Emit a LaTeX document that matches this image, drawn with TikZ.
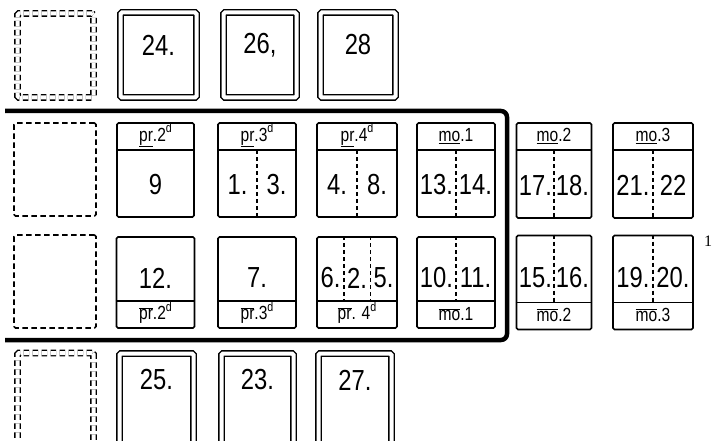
\documentclass[tikz,border=0pt]{standalone}
\usepackage{fontspec}
\setmainfont{Liberation Sans}
\newfontfamily\cardfont[FakeStretch=0.82]{Liberation Sans}
\newfontfamily\notefont{Liberation Serif}
\newcommand{\topbar}[1]{$\overline{\hbox{#1}}$}
\newcommand{\dsup}{\raisebox{0.45em}{\fontsize{13}{13}\selectfont d}}

\begin{document}
\begin{tikzpicture}[
    x=1pt, y=-1pt,
    every node/.style={
        inner sep=0pt,
        anchor=center
    },
    card/.style 2 args={draw, line width=1.6pt, rounded corners=1.5pt,
        minimum width=#1pt, minimum height=#2pt},
    framed/.style={double, double distance=4pt, line width=1.4pt},
    blank/.style={dash pattern=on 5.5pt off 3.5pt},
    rule/.style={line width=1.6pt},
    split/.style={line width=1.6pt, dash pattern=on 4pt off 3pt},
    frame/.style={line width=4.5pt, rounded corners=6pt},
    num/.style={font=\cardfont\fontsize{29}{29}\selectfont},
    tag/.style={anchor=base, font=\cardfont\fontsize{19}{19}\selectfont}
]
\clip (0,0) rectangle (713,441);

% Empty places, left column
\node[card={76}{84}, framed, blank] (e0) at (55.5,55.5) {};
\node[card={82}{93}, blank]         (e1) at (55,169.5) {};
\node[card={82}{93}, blank]         (e2) at (55,281.5) {};
\node[card={76}{100}, framed, blank] (e3) at (55.5,403) {};

% Top row
\node[card={76}{85}, framed] (t1) at (158.5,55) {};
\node[card={73}{85}, framed] (t2) at (260,55) {};
\node[card={75}{85}, framed] (t3) at (358,55) {};
\node[num] (n24) at ([yshift=10pt]t1.center) {24.};
\node[num] (n26) at ([yshift=10pt]t2.center) {26,};
\node[num] (n28) at ([yshift=10pt]t3.center) {28};

% Header row
\node[card={77}{94}] (h1) at (155.5,170) {};
\node[card={78}{94}] (h2) at (257,170) {};
\node[card={80}{94}] (h3) at (357,170) {};
\node[card={78}{94}] (h4) at (456,170) {};
\node[card={75}{95}] (h5) at (554,170.5) {};
\node[card={80}{95}] (h6) at (653,170.5) {};
\foreach \i in {1,...,6}
    \draw[rule] ([yshift=-28pt]h\i.north west) -- ([yshift=-28pt]h\i.north east);
\foreach \i in {2,...,6}
    \draw[split] ([yshift=-28pt]h\i.north) -- (h\i.south);

\node[tag] (hp2) at ([yshift=-19pt]h1.north) {\underline{pr}.2\dsup};
\node[tag] (hp3) at ([yshift=-19pt]h2.north) {\underline{pr}.3\dsup};
\node[tag] (hp4) at ([yshift=-19pt]h3.north) {\underline{pr}.4\dsup};
\node[tag] (hm1) at ([yshift=-19pt]h4.north) {\underline{mo}.1};
\node[tag] (hm2) at ([yshift=-19pt]h5.north) {\underline{mo}.2};
\node[tag] (hm3) at ([yshift=-19pt]h6.north) {\underline{mo}.3};

\node[num] (n9)  at ([yshift=-15pt]h1.center) {9};
\node[num] (n1)  at ([xshift=-19.5pt,yshift=-15pt]h2.center) {1.};
\node[num] (n3)  at ([xshift=19.5pt,yshift=-15pt]h2.center) {3.};
\node[num] (n4)  at ([xshift=-20pt,yshift=-15pt]h3.center) {4.};
\node[num] (n8)  at ([xshift=20pt,yshift=-15pt]h3.center) {8.};
\node[num] (n13) at ([xshift=-19.5pt,yshift=-15pt]h4.center) {13.};
\node[num] (n14) at ([xshift=19.5pt,yshift=-15pt]h4.center) {14.};
\node[num] (n17) at ([xshift=-18.5pt,yshift=-15pt]h5.center) {17.};
\node[num] (n18) at ([xshift=18.5pt,yshift=-15pt]h5.center) {18.};
\node[num] (n21) at ([xshift=-20pt,yshift=-15pt]h6.center) {21.};
\node[num] (n22) at ([xshift=20pt,yshift=-15pt]h6.center) {22};

% Footer row
\node[card={78}{91}] (f1) at (155.5,282.5) {};
\node[card={78}{91}] (f2) at (257,282.5) {};
\node[card={80}{91}] (f3) at (357,282.5) {};
\node[card={78}{91}] (f4) at (456,282.5) {};
\node[card={75}{94}] (f5) at (554,282.5) {};
\node[card={80}{94}] (f6) at (653,282.5) {};
\foreach \i in {1,...,6}
    \draw[rule] ([yshift=28pt]f\i.south west) -- ([yshift=28pt]f\i.south east);
\foreach \i in {4,...,6}
    \draw[split] (f\i.north) -- ([yshift=28pt]f\i.south);
\draw[split] ([xshift=-13.3pt]f3.north) -- ([xshift=-13.3pt,yshift=28pt]f3.south);
\draw[split] ([xshift=13.3pt]f3.north) -- ([xshift=13.3pt,yshift=28pt]f3.south);

\node[tag] (fp2) at ([yshift=9pt]f1.south) {\topbar{pr}.2\dsup};
\node[tag] (fp3) at ([yshift=9pt]f2.south) {\topbar{pr}.3\dsup};
\node[tag] (fp4) at ([yshift=9pt]f3.south) {\topbar{pr}. 4\dsup};
\node[tag] (fm1) at ([yshift=8pt]f4.south) {\topbar{mo}.1};
\node[tag] (fm2) at ([yshift=9pt]f5.south) {\topbar{mo}.2};
\node[tag] (fm3) at ([yshift=9pt]f6.south) {\topbar{mo}.3};

\node[num] (n12) at ([yshift=4.5pt]f1.center) {12.};
\node[num] (n7)  at ([yshift=4.5pt]f2.center) {7.};
\node[num] (n6)  at ([xshift=-26.5pt,yshift=4.5pt]f3.center) {6.};
\node[num] (n2)  at ([yshift=4.5pt]f3.center) {2.};
\node[num] (n5)  at ([xshift=26.5pt,yshift=4.5pt]f3.center) {5.};
\node[num] (n10) at ([xshift=-19.5pt,yshift=4.5pt]f4.center) {10.};
\node[num] (n11) at ([xshift=19.5pt,yshift=4.5pt]f4.center) {11.};
\node[num] (n15) at ([xshift=-18.5pt,yshift=4.5pt]f5.center) {15.};
\node[num] (n16) at ([xshift=18.5pt,yshift=4.5pt]f5.center) {16.};
\node[num] (n19) at ([xshift=-20pt,yshift=4.5pt]f6.center) {19.};
\node[num] (n20) at ([xshift=20pt,yshift=4.5pt]f6.center) {20.};

% Bottom row
\node[card={74}{100}, framed] (b1) at (156.5,403.5) {};
\node[card={72}{100}, framed] (b2) at (257.5,403.5) {};
\node[card={73}{100}, framed] (b3) at (355,403.5) {};
\node[num] (n25) at ([yshift=23.5pt]b1.center) {25.};
\node[num] (n23) at ([yshift=23.5pt]b2.center) {23.};
\node[num] (n27) at ([yshift=23.5pt]b3.center) {27.};

% Heavy frame round the middle block
\draw[frame] (5,111) -- (507,111) -- (507,340) -- (5,340);

% Note mark
\node[font=\notefont\fontsize{16}{16}\selectfont] (note) at (708,241) {1};

\end{tikzpicture}
\end{document}
